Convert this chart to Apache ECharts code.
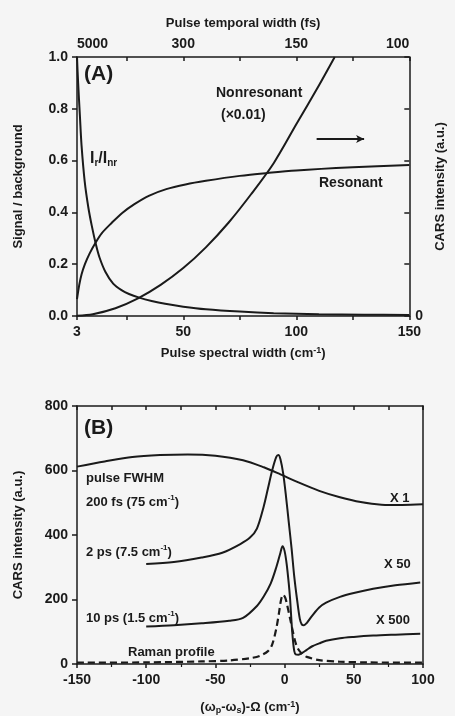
<!DOCTYPE html>
<html><head><meta charset="utf-8">
<script src="https://cdn.jsdelivr.net/npm/echarts@6/dist/echarts.min.js"></script>
<style>html,body{margin:0;padding:0;background:#f5f5f5}#c{width:455px;height:716px}</style>
</head><body><div id="c"></div>
<script>
// ---------- Panel A data ----------
const bottomTickValuesA = [3, 50, 100, 150];
const topTickLabelsA = ['5000', '300', '150', '100'];
const minorTicksA = [3, 25, 50, 75, 100, 125, 150];

const ratioW = [3, 3.5, 4.3, 5, 6.4, 8, 9.5, 11.4, 13, 15.6, 19, 22.7, 26, 30.5, 36, 42, 50, 60, 75, 90, 110, 130, 150];
const ratioV = [1.0, 0.9, 0.77, 0.66, 0.52, 0.42, 0.35, 0.275, 0.225, 0.17, 0.125, 0.1, 0.085, 0.071, 0.058, 0.047, 0.036, 0.026, 0.017, 0.011, 0.007, 0.005, 0.004];

const resW = [3, 4, 5, 6.5, 8.5, 11, 14, 18.4, 23, 28.4, 35, 42.5, 51, 60, 75, 87, 100, 125, 150];
const resV = [0.065, 0.12, 0.16, 0.2, 0.24, 0.28, 0.32, 0.36, 0.398, 0.432, 0.465, 0.49, 0.508, 0.522, 0.541, 0.552, 0.562, 0.574, 0.583];

const nonresW = [3, 10, 20, 30, 40, 50, 60, 70, 80, 90, 100, 110, 117];
const nonresV = [0.001, 0.007, 0.03, 0.068, 0.12, 0.185, 0.265, 0.36, 0.47, 0.59, 0.74, 0.89, 1.0];

// ---------- Panel B data ----------
const fs200X = [-150, -130, -110, -90, -70, -50, -30, -15, -3, 10, 25, 40, 55, 70, 85, 100];
const fs200V = [612, 628, 642, 648, 650, 646, 632, 610, 588, 563, 537, 517, 502, 494, 493, 495];

const ps2X = [-100, -80, -60, -45, -32, -25, -20, -15, -12, -9, -6, -4.5, -3, -1, 1, 3, 5, 7, 9, 11, 12.5, 14, 16, 20, 25, 30, 40, 50, 64, 80, 98];
const ps2V = [310, 316, 330, 345, 372, 392, 420, 490, 545, 600, 642, 648, 635, 590, 520, 440, 360, 270, 200, 140, 122, 120, 127, 150, 175, 190, 208, 220, 233, 244, 253];

const ps10X = [-100, -80, -60, -40, -30, -20, -15, -10, -6, -3, -1.5, 0, 1.5, 3, 4, 5, 6, 7, 8, 10, 13, 16, 20, 25, 30, 40, 50, 64, 80, 98];
const ps10V = [116, 120, 126, 134, 143, 180, 210, 250, 300, 345, 365, 350, 310, 250, 200, 130, 75, 40, 30, 29, 35, 44, 55, 64, 72, 80, 84, 88, 91, 94];

const ramanX = [-150, -100, -60, -40, -25, -18, -12, -9, -6, -4, -2.5, -1, 0.5, 2, 4, 6, 8, 10, 13, 16, 25, 40, 60, 100];
const ramanV = [4, 5, 8, 11, 18, 25, 40, 60, 110, 160, 200, 215, 205, 180, 140, 100, 65, 45, 30, 22, 12, 7, 5, 4];

const zip = (xs, ys) => xs.map((x, i) => [x, ys[i]]);

const FONT = 'Liberation Sans';
const INK = '#1a1a1a';
const lbl = {fontFamily: FONT, fontWeight: 'bold', fontSize: 14, color: INK};
const nameStyle = {fontFamily: FONT, fontWeight: 'bold', fontSize: 13, color: INK,
  rich: {sup: {fontFamily: FONT, fontWeight: 'bold', fontSize: 9, color: INK, verticalAlign: 'top', padding: [0, 0, 6, 0]},
         sub: {fontFamily: FONT, fontWeight: 'bold', fontSize: 9, color: INK, padding: [6, 0, 0, 0]}}};
const axLine = {show: true, onZero: false, lineStyle: {color: INK, width: 1.5}};
const lineSer = (name, xi, yi, data, extra) => Object.assign({
  name, type: 'line', xAxisIndex: xi, yAxisIndex: yi, data, showSymbol: false,
  smooth: 0.3, clip: true,
  lineStyle: {color: INK, width: 2}, silent: true, animation: false
}, extra || {});

const chart = echarts.init(document.getElementById('c'), null, {renderer: 'canvas'});
chart.setOption({
  backgroundColor: '#f5f5f5',
  animation: false,
  grid: [
    {left: 77, top: 57, width: 346, height: 259},
    {left: 77, top: 406, width: 346, height: 262}
  ],
  xAxis: [
    {gridIndex: 0, type: 'value', min: 3, max: 150, position: 'bottom',
     axisLine: axLine, splitLine: {show: false},
     axisTick: {show: true, inside: false, length: 4, customValues: minorTicksA, lineStyle: {color: INK, width: 1.5}},
     axisLabel: Object.assign({}, lbl, {customValues: bottomTickValuesA, margin: 9}),
     name: 'Pulse spectral width (cm{sup|-1})', nameLocation: 'middle', nameGap: 30, nameTextStyle: nameStyle},
    {gridIndex: 0, type: 'value', min: 3, max: 150, position: 'top',
     axisLine: axLine, splitLine: {show: false},
     axisTick: {show: true, inside: true, length: 4, customValues: minorTicksA, lineStyle: {color: INK, width: 1.5}},
     axisLabel: Object.assign({}, lbl, {customValues: bottomTickValuesA, margin: 6,
       alignMinLabel: 'left', alignMaxLabel: 'right',
       formatter: v => topTickLabelsA[bottomTickValuesA.indexOf(v)] || ''}),
     name: 'Pulse temporal width (fs)', nameLocation: 'middle', nameGap: 27, nameTextStyle: nameStyle},
    {gridIndex: 1, type: 'value', min: -150, max: 100, interval: 50, position: 'bottom',
     axisLine: axLine, splitLine: {show: false},
     axisTick: {show: true, inside: false, length: 4, lineStyle: {color: INK, width: 1.5}},
     minorTick: {show: true, splitNumber: 2, length: 3, lineStyle: {color: INK, width: 1.2}},
     axisLabel: Object.assign({}, lbl, {margin: 9}),
     name: '(ω{sub|p}-ω{sub|s})-Ω (cm{sup|-1})', nameLocation: 'middle', nameGap: 36, nameTextStyle: nameStyle},
    {gridIndex: 1, type: 'value', min: -150, max: 100, interval: 25, position: 'top',
     axisLine: axLine, splitLine: {show: false},
     axisTick: {show: true, inside: true, length: 4, lineStyle: {color: INK, width: 1.5}},
     axisLabel: {show: false}}
  ],
  yAxis: [
    {gridIndex: 0, type: 'value', min: 0, max: 1, interval: 0.2, position: 'left',
     axisLine: axLine, splitLine: {show: false},
     axisTick: {show: true, inside: false, length: 5, lineStyle: {color: INK, width: 1.5}},
     axisLabel: Object.assign({}, lbl, {margin: 9, formatter: v => v.toFixed(1)}),
     name: 'Signal / background', nameLocation: 'middle', nameGap: 52, nameRotate: 90, nameTextStyle: nameStyle},
    {gridIndex: 0, type: 'value', min: 0, max: 1, interval: 0.2, position: 'right',
     axisLine: axLine, splitLine: {show: false},
     axisTick: {show: true, inside: true, length: 5, lineStyle: {color: INK, width: 1.5}},
     axisLabel: Object.assign({}, lbl, {margin: 6, formatter: v => v === 0 ? '0' : ''}),
     name: 'CARS intensity (a.u.)', nameLocation: 'middle', nameGap: 20, nameRotate: 90, nameTextStyle: nameStyle},
    {gridIndex: 1, type: 'value', min: 0, max: 800, interval: 200, position: 'left',
     axisLine: axLine, splitLine: {show: false},
     axisTick: {show: true, inside: false, length: 5, lineStyle: {color: INK, width: 1.5}},
     axisLabel: Object.assign({}, lbl, {margin: 9}),
     name: 'CARS intensity (a.u.)', nameLocation: 'middle', nameGap: 52, nameRotate: 90, nameTextStyle: nameStyle},
    {gridIndex: 1, type: 'value', min: 0, max: 800, interval: 200, position: 'right',
     axisLine: axLine, splitLine: {show: false},
     axisTick: {show: false}, axisLabel: {show: false}}
  ],
  series: [
    lineSer('ratio', 0, 0, zip(ratioW, ratioV)),
    lineSer('resonant', 0, 0, zip(resW, resV)),
    lineSer('nonresonant', 0, 1, zip(nonresW, nonresV), {
      markLine: {silent: true, symbol: ['none', 'arrow'], symbolSize: [6, 8],
        label: {show: false}, lineStyle: {color: INK, width: 2, type: 'solid'},
        data: [[{coord: [109, 0.683]}, {coord: [130, 0.683]}]]}
    }),
    lineSer('200 fs', 2, 2, zip(fs200X, fs200V)),
    lineSer('2 ps', 2, 2, zip(ps2X, ps2V)),
    lineSer('10 ps', 2, 2, zip(ps10X, ps10V)),
    lineSer('Raman', 2, 2, zip(ramanX, ramanV), {lineStyle: {color: INK, width: 2.2, type: [7, 4]}})
  ],
  graphic: [
    {type: 'text', left: 84, top: 64, style: {text: '(A)', font: 'bold 21px ' + FONT, fill: INK}},
    {type: 'text', left: 216, top: 86, style: {text: 'Nonresonant', font: 'bold 14px ' + FONT, fill: INK}},
    {type: 'text', left: 221, top: 108, style: {text: '(×0.01)', font: 'bold 14px ' + FONT, fill: INK}},
    {type: 'text', left: 319, top: 176, style: {text: 'Resonant', font: 'bold 14px ' + FONT, fill: INK}},
    {type: 'text', left: 90, top: 151, style: {rich: {
       a: {font: 'bold 16px ' + FONT, fill: INK}, s: {font: 'bold 10px ' + FONT, fill: INK, padding: [9, 0, 0, 0]}},
       text: '{a|I}{s|r}{a|/I}{s|nr}'}},
    {type: 'text', left: 84, top: 418, style: {text: '(B)', font: 'bold 21px ' + FONT, fill: INK}},
    {type: 'text', left: 86, top: 472, style: {text: 'pulse FWHM', font: 'bold 13px ' + FONT, fill: INK}},
    {type: 'text', left: 86, top: 494, style: {rich: {a: {font: 'bold 13px ' + FONT, fill: INK}, u: {font: 'bold 8px ' + FONT, fill: INK, padding: [0, 0, 8, 0]}},
       text: '{a|200 fs (75 cm}{u|-1}{a|)}'}},
    {type: 'text', left: 86, top: 544, style: {rich: {a: {font: 'bold 13px ' + FONT, fill: INK}, u: {font: 'bold 8px ' + FONT, fill: INK, padding: [0, 0, 8, 0]}},
       text: '{a|2 ps (7.5 cm}{u|-1}{a|)}'}},
    {type: 'text', left: 86, top: 610, style: {rich: {a: {font: 'bold 13px ' + FONT, fill: INK}, u: {font: 'bold 8px ' + FONT, fill: INK, padding: [0, 0, 8, 0]}},
       text: '{a|10 ps (1.5 cm}{u|-1}{a|)}'}},
    {type: 'text', left: 128, top: 646, style: {text: 'Raman profile', font: 'bold 13px ' + FONT, fill: INK}},
    {type: 'text', left: 390, top: 492, style: {text: 'X 1', font: 'bold 13px ' + FONT, fill: INK}},
    {type: 'text', left: 384, top: 558, style: {text: 'X 50', font: 'bold 13px ' + FONT, fill: INK}},
    {type: 'text', left: 376, top: 614, style: {text: 'X 500', font: 'bold 13px ' + FONT, fill: INK}}
  ]
});
</script></body></html>
